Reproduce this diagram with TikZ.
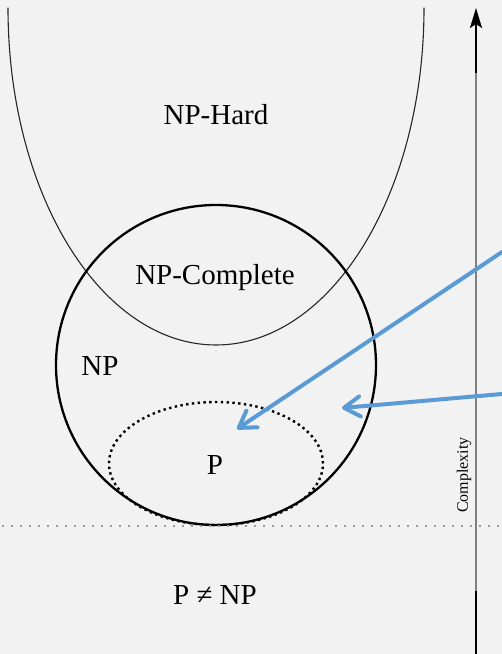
\documentclass[tikz,border=0pt]{standalone}
\usepackage{fontspec}
\setmainfont{Liberation Serif}
\usetikzlibrary{arrows.meta}
\definecolor{pgback}{HTML}{F2F2F2}
\definecolor{pgblue}{HTML}{5B9BD5}
\definecolor{pggray}{HTML}{808080}

\begin{document}
\begin{tikzpicture}[x=1pt, y=1pt, line cap=round, line join=round,
  every node/.style={inner sep=0pt, font=\fontsize{29}{34}\selectfont},
  setline/.style={black, line width=2.3pt},
  pointer/.style={pgblue, line width=4pt,
    -{Straight Barb[length=16pt,width=20pt,round]}}]
  \fill[pgback, use as bounding box] (0,0) rectangle (502,654);
  % y = 654 - pixel row; classes first, then the axis and the pointers.
  \draw[black!85, line width=1.1pt] (8,646)
    arc[start angle=180, end angle=360, x radius=208pt, y radius=337pt];
  % P sits on the bottom of NP, so the circle goes over it
  \draw[line width=2.4pt, line cap=butt, dash pattern=on 2.4pt off 3.4pt]
    (216,190.5) ellipse[x radius=107pt, y radius=61.5pt];
  \draw[setline] (216,289) circle[radius=160pt];
  \draw[pggray!80, line width=1.5pt, line cap=butt,
    dash pattern=on 1.5pt off 7.5pt] (2,128) -- (502,128);
  \node (nphard) at (216,539) {NP-Hard};
  \node (npc) at (215,376) {NP-Complete};
  \node (np) at (100,288) {NP};
  \node (p) at (215,189) {P};
  \node (pnenp) at (215,59) {P ≠ NP};
  % complexity axis, black at both ends
  \coordinate (axbot) at (476,0);
  \coordinate (axlo) at (476,63);
  \coordinate (axhi) at (476,581);
  \coordinate (axtop) at (476,646);
  \draw[line width=2pt, line cap=butt] (axbot) -- (axlo);
  \draw[pggray, line width=2pt, line cap=butt] (axlo) -- (axhi);
  \draw[line width=2pt, line cap=butt,
    -{Stealth[length=20pt,width=12pt,inset=4pt]}] (axhi) -- (axtop);
  \node[rotate=90, font=\fontsize{16}{19}\selectfont] (cplx) at (464,179)
    {Complexity};
  \coordinate (from1) at (502,402);
  \coordinate (to1) at (237,225);
  \coordinate (from2) at (502,260);
  \coordinate (to2) at (342,246);
  \draw[pointer] (from1) -- (to1);
  \draw[pointer] (from2) -- (to2);
\end{tikzpicture}
\end{document}
